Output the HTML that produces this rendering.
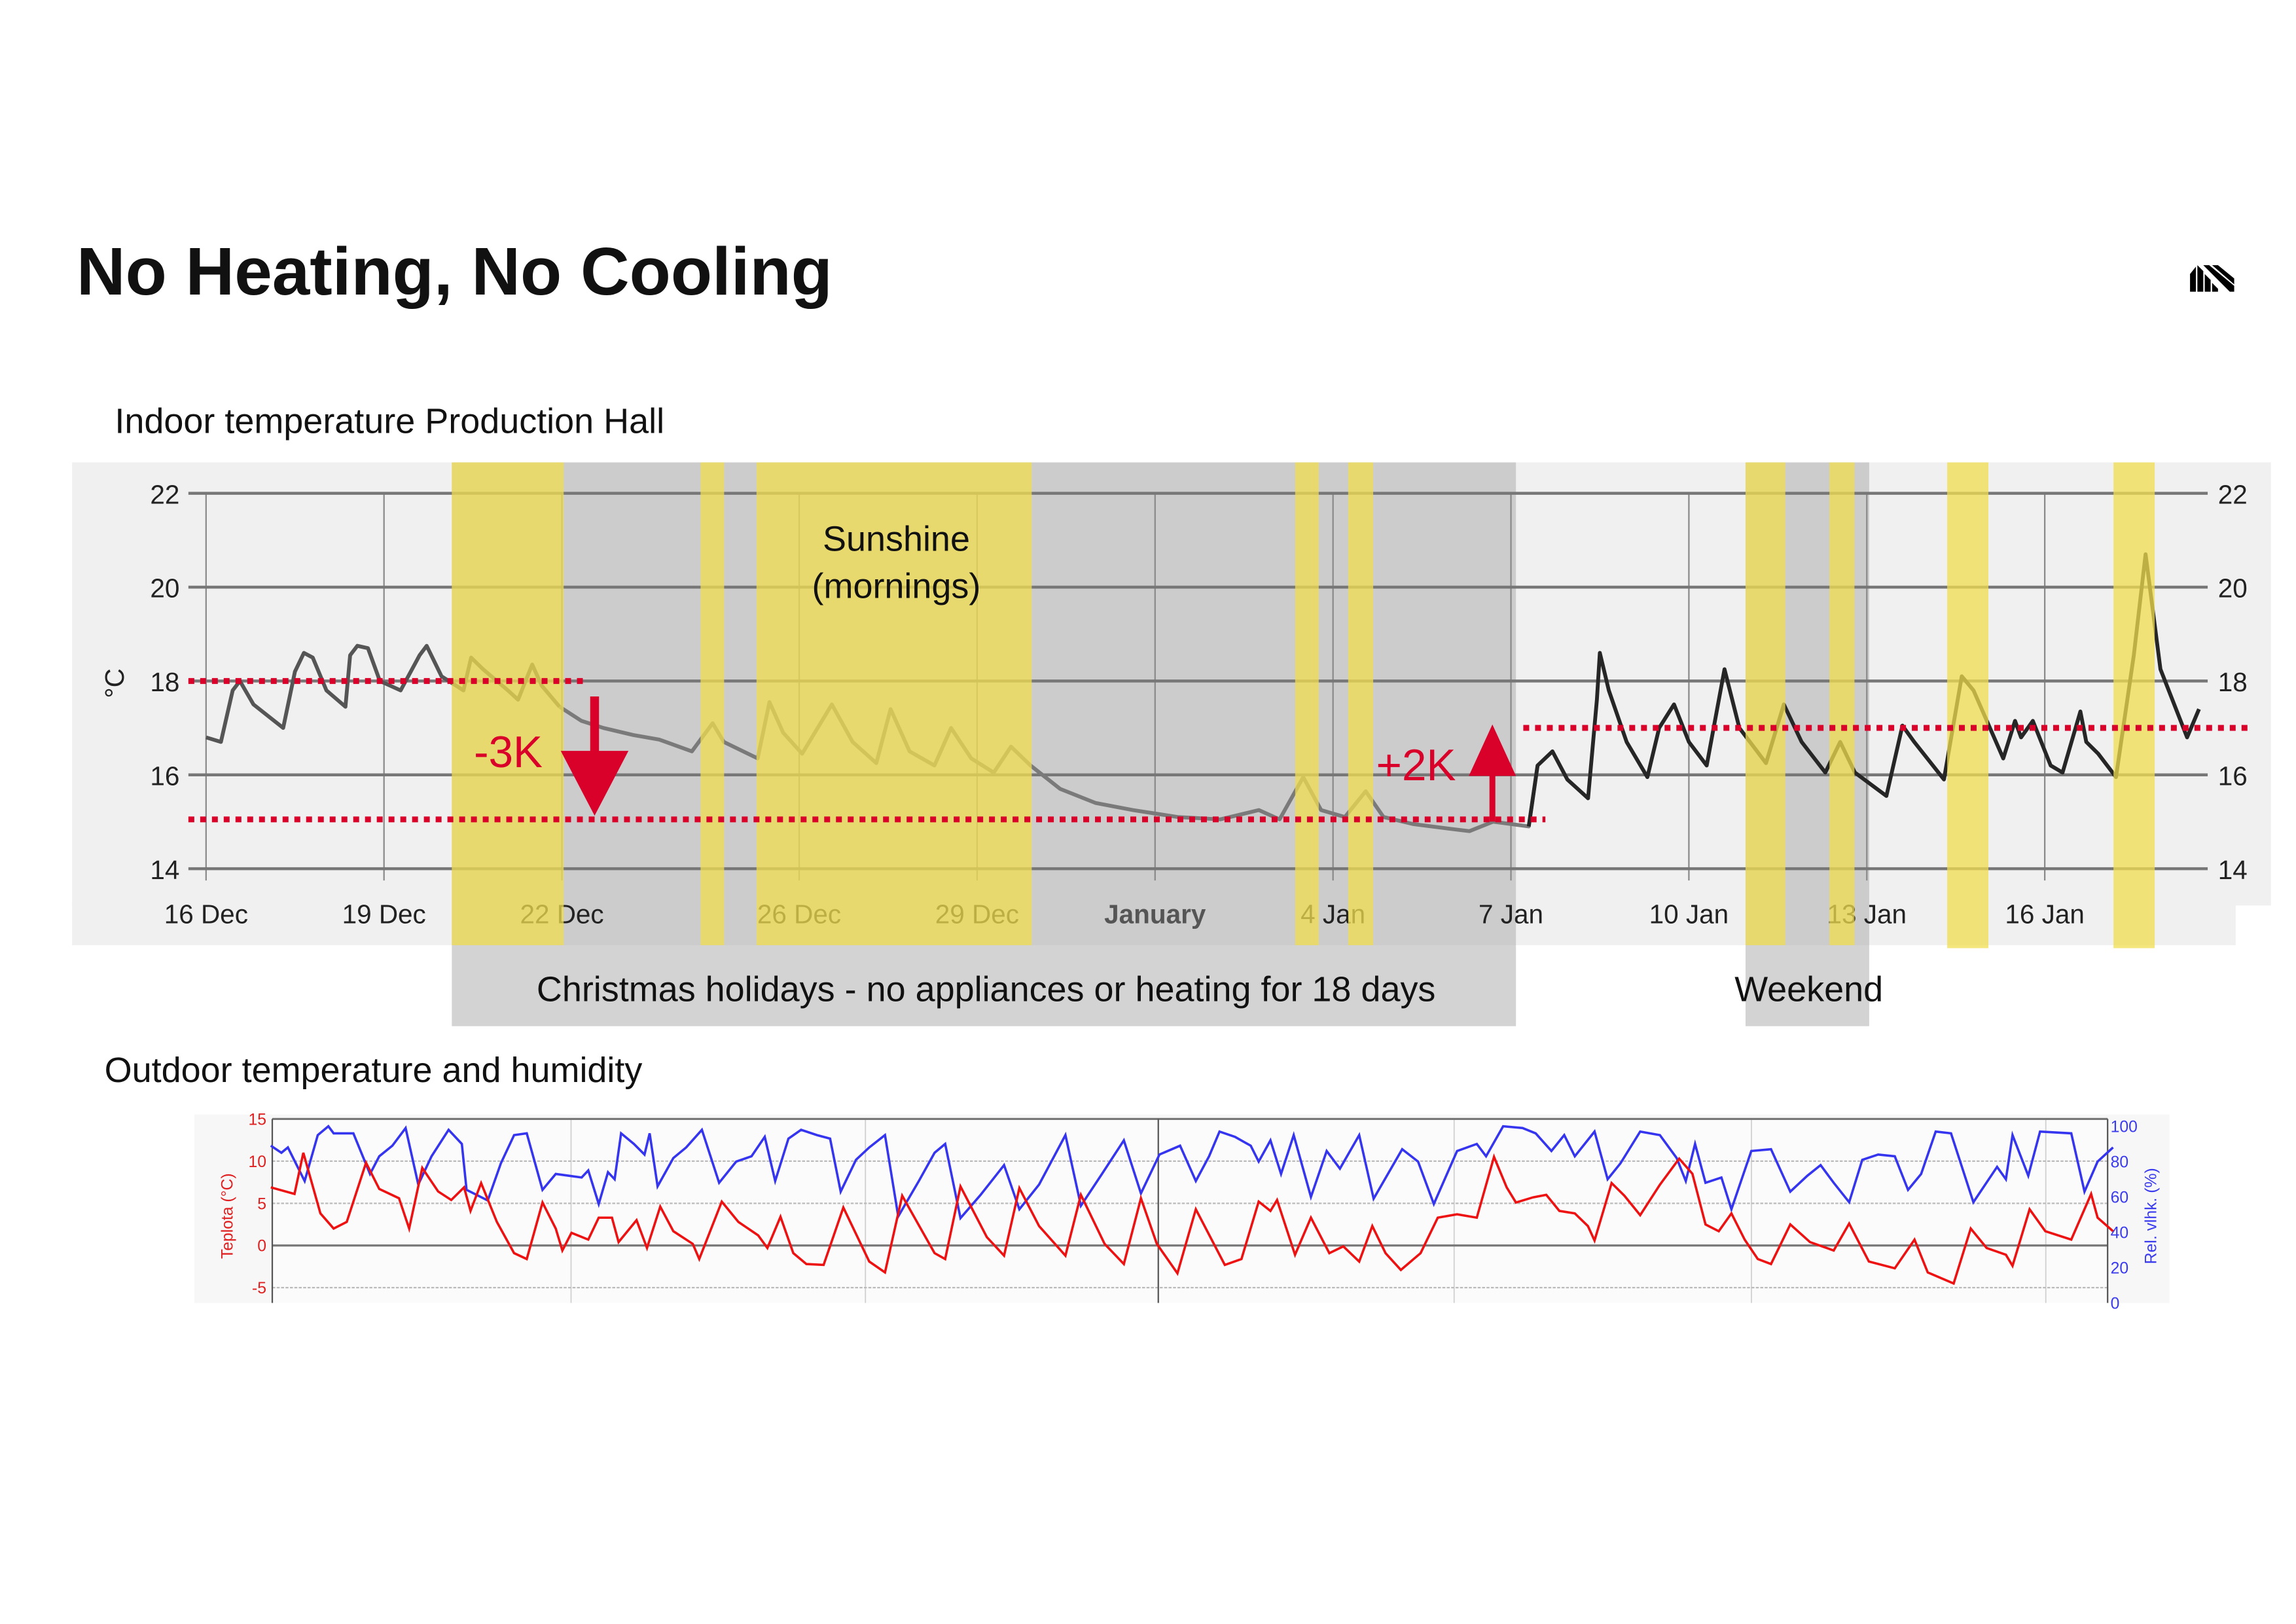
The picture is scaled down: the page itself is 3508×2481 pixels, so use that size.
<!DOCTYPE html>
<html><head><meta charset="utf-8"><style>
html,body{margin:0;padding:0;background:#fff}
svg{display:block}
text{font-family:"Liberation Sans",sans-serif}
</style></head><body>
<svg id="root" xmlns="http://www.w3.org/2000/svg" width="3508" height="2481" viewBox="0 0 1560 1103">
<rect x="0" y="0" width="1560" height="1103" fill="#fff"/>
<text x="52" y="200" font-size="46" font-weight="bold" fill="#111">No Heating, No Cooling</text>
<g fill="#000">
<polygon points="1488,186 1492,181 1492,198 1488,198"/>
<polygon points="1493,180 1497,184 1497,198 1493,198"/>
<polygon points="1498,186 1502,190 1502,198 1498,198"/>
<polygon points="1503,192 1507,196 1507,198 1503,198"/>
<polygon points="1497,180 1501,180 1518,194 1518,198 1515,198"/>
<polygon points="1503,180 1507,180 1518,189 1518,193"/>
</g>
<text x="78" y="294" font-size="24" fill="#111">Indoor temperature Production Hall</text>
<g id="main"></g>
<text x="71" y="735" font-size="24" fill="#111">Outdoor temperature and humidity</text>
<g id="out"></g>
</svg>
<script>
// ---- Indoor temperature data (days since 16 Dec, °C) ----
const inDays = [0,0.25,0.45,0.57,0.8,1.1,1.3,1.5,1.65,1.8,2.03,2.35,2.43,2.55,2.73,2.93,3.28,3.6,3.72,3.97,4.34,4.47,4.67,5.09,5.26,5.5,5.66,5.96,6.33,6.7,7.2,7.64,8.19,8.54,8.73,9.3,9.5,9.73,10.05,10.55,10.9,11.3,11.54,11.86,12.28,12.56,12.9,13.28,13.57,13.9,14.4,15.0,15.63,16.38,17.1,17.75,18.1,18.5,18.8,19.2,19.55,19.85,20.35,20.97,21.3,21.7,22.3,22.45,22.7,22.95,23.3,23.45,23.5,23.65,23.95,24.3,24.5,24.75,25.0,25.3,25.6,25.85,26.3,26.6,26.9,27.3,27.55,27.8,28.33,28.6,28.8,29.3,29.6,29.8,30.3,30.5,30.6,30.8,31.1,31.3,31.6,31.7,31.9,32.2,32.5,32.7,32.95,33.4,33.6];
const inTemps = [16.8,16.7,17.8,18.0,17.5,17.2,17.0,18.2,18.6,18.5,17.8,17.45,18.55,18.75,18.7,18.0,17.8,18.55,18.75,18.1,17.8,18.5,18.25,17.8,17.6,18.35,17.9,17.45,17.15,17.0,16.85,16.75,16.5,17.1,16.7,16.35,17.55,16.9,16.45,17.5,16.7,16.25,17.4,16.5,16.2,17.0,16.35,16.05,16.6,16.2,15.7,15.4,15.25,15.1,15.05,15.25,15.05,15.95,15.25,15.1,15.65,15.1,14.95,14.85,14.8,15.0,14.9,16.2,16.5,15.9,15.5,17.6,18.6,17.8,16.7,15.95,17.0,17.5,16.7,16.2,18.25,17.0,16.25,17.5,16.7,16.05,16.7,16.05,15.55,17.05,16.7,15.9,18.1,17.8,16.35,17.15,16.8,17.15,16.2,16.05,17.35,16.7,16.45,15.95,18.55,20.7,18.25,16.8,17.4];
const yTicks = [14,16,18,20,22];
const xTickDays = [0,3,6,10,13,16,19,22,25,28,31];
const xTickLabels = ["16 Dec","19 Dec","22 Dec","26 Dec","29 Dec","January","4 Jan","7 Jan","10 Jan","13 Jan","16 Jan"];
const refLevels = [18,15.05,17];

// ---- Outdoor data (days, °C / %) ----
const outTempDays = [0,.54,.74,1.13,1.43,1.73,2.17,2.47,2.92,3.15,3.45,3.81,4.11,4.4,4.55,4.79,5.15,5.54,5.83,6.19,6.49,6.64,6.85,7.23,7.47,7.77,7.92,8.33,8.57,8.87,9.17,9.61,9.76,10.27,10.65,11.1,11.31,11.61,11.9,12.2,12.59,13.04,13.63,13.99,14.38,15.12,15.36,15.71,16.31,16.7,17.05,17.5,18.1,18.45,18.99,19.43,19.82,20.18,20.65,21.07,21.73,22.11,22.5,22.77,22.92,23.33,23.69,24.11,24.43,24.79,25.09,25.39,25.74,26.19,26.58,27.02,27.47,27.86,28.15,28.36,28.75,29.05,29.35,29.7,30,30.15,30.54,30.83,31.19,31.64,32.08,32.38,32.68,32.98,33.27,33.57,33.87,34.17,34.61,35.06,35.6,35.95,36.4,36.99,37.44,37.74,38.33,38.72,39.08,39.52,39.67,40.06,40.42,41.01,41.46,41.61,41.96];
const outTemps = [6.9,6.1,11,3.8,2.0,2.8,9.8,6.7,5.6,2.0,9.2,6.4,5.4,6.9,4.1,7.4,2.8,-0.9,-1.6,5.1,2.0,-0.6,1.5,0.7,3.3,3.3,0.4,3.0,-0.3,4.6,1.7,0.2,-1.6,5.2,2.8,1.2,-0.3,3.4,-0.9,-2.2,-2.3,4.5,-1.9,-3.2,5.9,-0.9,-1.6,7.0,1.0,-1.2,6.8,2.3,-1.2,6.0,0.2,-2.2,5.6,0.2,-3.3,4.3,-2.3,-1.6,5.2,4.1,5.4,-1.1,3.3,-0.9,-0.1,-1.9,2.3,-0.9,-2.9,-0.9,3.3,3.7,3.3,10.5,6.9,5.1,5.7,6.0,4.1,3.8,2.3,0.6,7.4,5.9,3.6,7.2,10.3,8.5,2.5,1.7,3.8,0.7,-1.6,-2.2,2.5,0.4,-0.6,2.6,-1.9,-2.7,0.7,-3.2,-4.5,2.0,-0.3,-1.1,-2.4,4.3,1.7,0.7,6.1,3.3,1.7];
const outHumDays = [0,.24,.39,.77,1.07,1.31,1.43,1.88,2.26,2.47,2.77,3.07,3.36,3.66,4.05,4.35,4.46,4.94,5.24,5.54,5.83,6.19,6.49,6.79,7.08,7.23,7.47,7.68,7.83,7.98,8.27,8.51,8.63,8.81,9.17,9.46,9.82,10.21,10.6,10.95,11.25,11.49,11.79,12.08,12.44,12.74,12.98,13.33,13.63,13.99,14.29,14.76,15.12,15.36,15.71,16.16,16.7,17.05,17.5,18.1,18.45,18.93,19.43,19.82,20.24,20.71,21.07,21.37,21.61,21.96,22.32,22.5,22.77,23.01,23.3,23.69,24.05,24.35,24.79,25.12,25.77,26.13,26.49,27.02,27.47,27.68,28.07,28.51,28.81,29.17,29.46,29.7,30.15,30.45,30.74,31.19,31.64,32.02,32.23,32.44,32.68,33.04,33.27,33.72,34.17,34.61,35,35.3,35.6,35.95,36.25,36.61,36.99,37.29,37.59,37.92,38.27,38.78,39.32,39.52,39.67,40.03,40.3,41.01,41.31,41.61,41.96];
const outHum = [89,85,88,69,95,100,96,96,73,83,89,99,67,83,98,90,64,58,79,95,96,64,73,72,71,75,56,74,70,96,90,84,96,66,82,88,98,68,80,83,94,69,93,98,95,93,63,81,88,95,49,69,85,90,48,61,78,53,67,95,55,73,92,62,84,89,69,83,97,94,89,80,92,73,95,60,86,76,95,59,87,80,56,86,90,83,100,99,96,86,95,83,97,70,79,97,95,82,69,90,68,71,53,86,87,63,72,78,68,57,81,84,83,64,73,97,96,57,77,70,95,72,97,96,63,80,88];
const outTempTicks = [15,10,5,0,-5];
const outHumTicks = [100,80,60,40,20,0];

const NS = "http://www.w3.org/2000/svg";
function mk(parent, tag, attrs, text){
  const e = document.createElementNS(NS, tag);
  for (const k in attrs) e.setAttribute(k, attrs[k]);
  if (text !== undefined) e.textContent = text;
  parent.appendChild(e); return e;
}
// ---------- Indoor chart ----------
const M = document.getElementById('main');
const xD = d => 140 + d * 40.3;
const yT = t => 335 + (22 - t) * 31.875;

let e;
e = mk(M,'rect',{x:49,y:314,width:1494,height:301,fill:'#f0f0f0'});
 
e = mk(M,'rect',{x:49,y:614,width:1470,height:28,fill:'#f0f0f0'});
 
e = mk(M,'rect',{x:307,y:314,width:723,height:328,fill:'#cccccc'});
 
e = mk(M,'rect',{x:307,y:642,width:723,height:55,fill:'#d3d3d3'});
 
e = mk(M,'rect',{x:1186,y:314,width:84,height:328,fill:'#cccccc'});
 
e = mk(M,'rect',{x:1186,y:642,width:84,height:55,fill:'#d3d3d3'});
 

xTickDays.forEach((d,i)=>{
  e = mk(M,'line',{x1:xD(d),x2:xD(d),y1:335,y2:598,stroke:'#8a8a8a','stroke-width':1});
   
  e = mk(M,'text',{x:xD(d),y:627,'font-size':18,'text-anchor':'middle',fill: i===5?'#555':'#222','font-weight': i===5?'bold':'normal'}, xTickLabels[i]);
   
});
yTicks.forEach(t=>{
  e = mk(M,'line',{x1:128,x2:1500,y1:yT(t),y2:yT(t),stroke:'#777','stroke-width':2});
   
  e = mk(M,'text',{x:112,y:yT(t)+7,'font-size':18,'text-anchor':'middle',fill:'#222'}, String(t));
   
  e = mk(M,'text',{x:1517,y:yT(t)+7,'font-size':18,'text-anchor':'middle',fill:'#222'}, String(t));
   
});
e = mk(M,'text',{x:0,y:0,'font-size':18,fill:'#222','text-anchor':'middle',transform:'translate(84,464) rotate(-90)'}, '°C');
 

// temperature line, three segments by period
const segs = [[0,6,'#555'],[6,22.35,'#7a7a7a'],[22.35,40,'#262626']];
segs.forEach(s=>{
  const pts = [];
  inDays.forEach((d,i)=>{ if (d>=s[0]-0.3 && d<=s[1]+0.3) pts.push(xD(d).toFixed(1)+','+yT(inTemps[i]).toFixed(1)); });
  e = mk(M,'polyline',{points:pts.join(' '),fill:'none',stroke:s[2],'stroke-width':2.6,'stroke-linejoin':'round'});
   
});

// sunshine bands (translucent over line)
const sunBands = [[307,383],[476,492],[514,701],[880,896],[916,933],[1186,1213],[1243,1260],[1323,1351],[1436,1464]];
sunBands.forEach((b,i)=>{
  e = mk(M,'rect',{x:b[0],y:314,width:b[1]-b[0],height: i>=7?330:328,fill:'#f2dd50','fill-opacity':0.75});
   
});

// reference lines
const refX = [[128,397],[128,1050],[1035,1530]];
refLevels.forEach((lv,i)=>{
  e = mk(M,'line',{x1:refX[i][0],x2:refX[i][1],y1:yT(lv),y2:yT(lv),stroke:'#d9002a','stroke-width':4,'stroke-dasharray':'4 4'});
   
});
// arrows
e = mk(M,'g',{});
 
mk(e,'line',{x1:404,x2:404,y1:473,y2:515,stroke:'#d9002a','stroke-width':6});
mk(e,'polygon',{points:'381,510 427,510 404,554',fill:'#d9002a'});
e = mk(M,'g',{});
 
mk(e,'line',{x1:1014,x2:1014,y1:558,y2:522,stroke:'#d9002a','stroke-width':4});
mk(e,'polygon',{points:'998,527 1030,527 1014,492',fill:'#d9002a'});
e = mk(M,'text',{x:322,y:521,'font-size':30,fill:'#d9002a'},'-3K');
 
e = mk(M,'text',{x:935,y:530,'font-size':30,fill:'#d9002a'},'+2K');
 

e = mk(M,'text',{x:609,y:374,'font-size':24,'text-anchor':'middle',fill:'#111'},'Sunshine');
 
e = mk(M,'text',{x:609,y:406,'font-size':24,'text-anchor':'middle',fill:'#111'},'(mornings)');
 
e = mk(M,'text',{x:670,y:680,'font-size':24,'text-anchor':'middle',fill:'#111'},'Christmas holidays - no appliances or heating for 18 days');
 
e = mk(M,'text',{x:1229,y:680,'font-size':24,'text-anchor':'middle',fill:'#111'},'Weekend');
 

// ---------- Outdoor chart ----------
const O = document.getElementById('out');
const xO = d => 184 + d * 29.83;
const yOT = t => 846 - t * 5.73;
const yOH = h => 885 - h * 1.2;
e = mk(O,'rect',{x:132,y:757,width:1342,height:128,fill:'#f7f7f7'});
 
e = mk(O,'rect',{x:185,y:760,width:1247,height:125,fill:'#fbfbfb'});
 
[388,588,988,1190,1390].forEach(x=>{
  e = mk(O,'line',{x1:x,x2:x,y1:760,y2:885,stroke:'#d0d0d0','stroke-width':0.8});
   
});
outTempTicks.forEach(t=>{
  const solid = (t===0||t===15);
  e = mk(O,'line',{x1:185,x2:1432,y1:yOT(t),y2:yOT(t),stroke: solid?'#777':'#bbb','stroke-width': solid?1.4:1,'stroke-dasharray': solid?'none':'2 1'});
   
  e = mk(O,'text',{x:181,y:yOT(t)+4,'font-size':11,'text-anchor':'end',fill:'#e02020'},String(t));
   
});
outHumTicks.forEach(h=>{
  e = mk(O,'text',{x:1434,y:yOH(h)+4,'font-size':11,fill:'#3a3aee'},String(h));
   
});
e = mk(O,'line',{x1:185,x2:185,y1:760,y2:885,stroke:'#555','stroke-width':1});
 
e = mk(O,'line',{x1:787,x2:787,y1:760,y2:885,stroke:'#555','stroke-width':1});
 
e = mk(O,'line',{x1:1432,x2:1432,y1:760,y2:885,stroke:'#555','stroke-width':1});
 
e = mk(O,'text',{x:0,y:0,'font-size':11,fill:'#e02020','text-anchor':'middle',transform:'translate(158,826) rotate(-90)'},'Teplota (°C)');
 
e = mk(O,'text',{x:0,y:0,'font-size':11,fill:'#3a3aee','text-anchor':'middle',transform:'translate(1465,826) rotate(-90)'},'Rel. vlhk. (%)');
 
e = mk(O,'polyline',{points:outHumDays.map((d,i)=>xO(d).toFixed(1)+','+yOH(outHum[i]).toFixed(1)).join(' '),fill:'none',stroke:'#3535f0','stroke-width':1.6});
 
e = mk(O,'polyline',{points:outTempDays.map((d,i)=>xO(d).toFixed(1)+','+yOT(outTemps[i]).toFixed(1)).join(' '),fill:'none',stroke:'#ee1111','stroke-width':1.6});
 
</script>
</body></html>
